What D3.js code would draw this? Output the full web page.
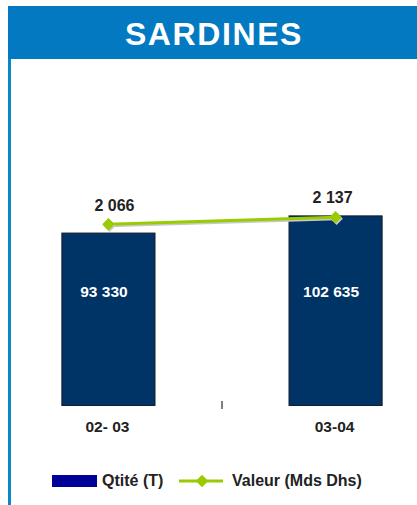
<!DOCTYPE html>
<html><head><meta charset="utf-8">
<script src="https://cdn.jsdelivr.net/npm/d3@7"></script>
<style>body{margin:0;background:#fff;}svg{display:block;font-family:"Liberation Sans",Arial,sans-serif;}</style>
</head><body>
<script>
const categories = ["02- 03", "03-04"];
const quantites = [93330, 102635];
const valeurs = [2066, 2137];
const qtyLabels = ["93 330", "102 635"];
const valLabels = ["2 066", "2 137"];
const title = "SARDINES";
const legendLabels = ["Qtité (T)", "Valeur (Mds Dhs)"];

const W = 417, H = 505;
const svg = d3.select("body").append("svg").attr("width", W).attr("height", H);

// header
svg.append("rect").attr("x", 8).attr("y", 6).attr("width", W - 8).attr("height", 53).attr("fill", "#0279C1");
svg.append("text").attr("x", 214).attr("y", 45).attr("text-anchor", "middle")
  .attr("fill", "#fff").attr("font-weight", "bold").attr("font-size", 32).attr("letter-spacing", 1.6).text(title);
svg.append("rect").attr("x", 8).attr("y", 59).attr("width", 3).attr("height", H - 59).attr("fill", "#0A86CC");

const x = d3.scaleBand().domain(categories).range([-4, 448]).paddingInner(0.59).paddingOuter(0.29);
const y = d3.scaleLinear().domain([0, 120000]).range([405.5, 183.8]);
const y2 = d3.scaleLinear().domain([0, 2500]).range([428, 181.5]);

const g = svg.append("g");
g.selectAll("rect.bar").data(categories).join("rect").attr("class", "bar")
  .attr("x", d => x(d)).attr("width", x.bandwidth())
  .attr("y", (d, i) => y(quantites[i])).attr("height", (d, i) => y(0) - y(quantites[i]))
  .attr("fill", "#003366").attr("stroke", "#1a1a2a").attr("stroke-width", 1);

g.selectAll("text.ql").data(categories).join("text").attr("class", "ql")
  .attr("x", d => x(d) + x.bandwidth() / 2 - 4.5).attr("y", 297)
  .attr("text-anchor", "middle").attr("fill", "#fff").attr("font-weight", "bold").attr("font-size", 15.5)
  .text((d, i) => qtyLabels[i]);

// small axis tick between categories
const midX = (x(categories[0]) + x.bandwidth() + x(categories[1])) / 2;
g.append("line").attr("x1", midX).attr("x2", midX).attr("y1", 401).attr("y2", 409).attr("stroke", "#000").attr("stroke-width", 1);

g.selectAll("text.cat").data(categories).join("text").attr("class", "cat")
  .attr("x", d => x(d) + x.bandwidth() / 2 - 1).attr("y", 432)
  .attr("text-anchor", "middle").attr("fill", "#222").attr("font-weight", "bold").attr("font-size", 15.5)
  .text(d => d);

// line
const px = (d) => x(d) + x.bandwidth() / 2;
const line = d3.line().x((d, i) => px(categories[i])).y(d => y2(d));
g.append("path").datum(valeurs).attr("d", line).attr("fill", "none").attr("stroke", "#c8c8c8").attr("stroke-width", 3).attr("transform", "translate(1,1.5)");
g.append("path").datum(valeurs).attr("d", line).attr("fill", "none").attr("stroke", "#99CC00").attr("stroke-width", 3);
const diamond = d3.symbol().type(d3.symbolDiamond2).size(100);
g.selectAll("path.mks").data(valeurs).join("path").attr("class", "mks")
  .attr("d", diamond).attr("transform", (d, i) => `translate(${px(categories[i]) + 1},${y2(d) + 1.5})`)
  .attr("fill", "#c8c8c8");
g.selectAll("path.mk").data(valeurs).join("path").attr("class", "mk")
  .attr("d", diamond).attr("transform", (d, i) => `translate(${px(categories[i])},${y2(d)})`)
  .attr("fill", "#99CC00");

g.selectAll("text.vl").data(valeurs).join("text").attr("class", "vl")
  .attr("x", (d, i) => px(categories[i]) + (i === 0 ? 6 : -3)).attr("y", (d, i) => y2(d) - (i === 0 ? 13.3 : 14.3))
  .attr("text-anchor", "middle").attr("fill", "#222").attr("font-weight", "bold").attr("font-size", 16)
  .text((d, i) => valLabels[i]);

// legend
const lg = svg.append("g");
lg.append("rect").attr("x", 52).attr("y", 475).attr("width", 45).attr("height", 12).attr("fill", "#000099");
lg.append("text").attr("x", 102).attr("y", 485.5).attr("fill", "#222").attr("font-weight", "bold").attr("font-size", 16).text(legendLabels[0]);
lg.append("line").attr("x1", 179).attr("x2", 223).attr("y1", 481).attr("y2", 481).attr("stroke", "#99CC00").attr("stroke-width", 3);
lg.append("path").attr("d", diamond).attr("transform", "translate(202,481)").attr("fill", "#99CC00");
lg.append("text").attr("x", 232).attr("y", 485.5).attr("fill", "#222").attr("font-weight", "bold").attr("font-size", 16).text(legendLabels[1]);
</script>
</body></html>
